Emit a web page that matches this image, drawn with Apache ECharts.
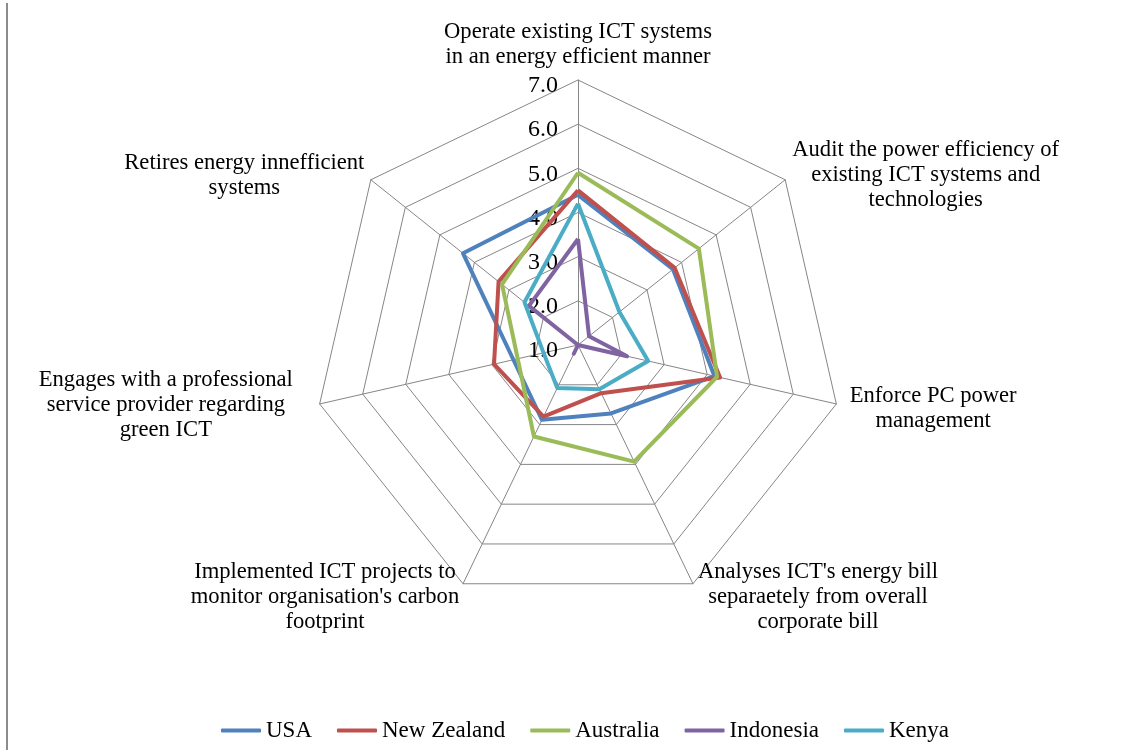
<!DOCTYPE html>
<html>
<head>
<meta charset="utf-8">
<script src="https://cdn.jsdelivr.net/npm/echarts@6/dist/echarts.min.js"></script>
<style>
  html, body { margin: 0; padding: 0; background: #fff; }
  #chart { width: 1142px; height: 750px; }
</style>
</head>
<body>
<div id="chart"></div>
<script>
// ---- data (categories listed clockwise from the top) ----
const categories = [
  'Operate existing ICT systems\nin an energy efficient manner',
  'Audit the power efficiency of\nexisting ICT systems and\ntechnologies',
  'Enforce PC power\nmanagement',
  "Analyses ICT's energy bill\nseparaetely from overall\ncorporate bill",
  "Implemented ICT projects to\nmonitor organisation's carbon\nfootprint",
  'Engages with a professional\nservice provider regarding\ngreen ICT',
  'Retires energy innefficient\nsystems'
];
const seriesNames = ['USA', 'New Zealand', 'Australia', 'Indonesia', 'Kenya'];
const usa        = [4.40, 3.75, 4.17, 2.72, 2.88, 2.50, 4.33];
const newZealand = [4.50, 3.80, 4.30, 2.21, 2.80, 2.95, 3.30];
const australia  = [4.90, 4.50, 4.23, 3.93, 3.30, 2.40, 3.20];
const indonesia  = [3.40, 1.32, 2.14, 1.00, 1.22, 1.00, 2.42];
const kenya      = [4.20, 2.20, 2.63, 2.11, 2.08, 1.80, 2.55];
const tickValues = [1, 2, 3, 4, 5, 6, 7];

// ---- styling ----
const colors = ['#4F81BD', '#C0504D', '#9BBB59', '#8064A2', '#4BACC6'];
const FONT = '"Liberation Serif", "Times New Roman", serif';
const labelWidths = [270, 270, 180, 244, 270, 294, 242];
const labelSpacer = [0, 0, 6, 14, 14, 0, 0];
const labelSpacerBottom = [3, 0, 0, 0, 0, 0, 0];

const rich = {};
labelWidths.forEach((w, i) => {
  rich['c' + i] = { width: w, align: 'center', fontFamily: FONT, fontSize: 22.6, lineHeight: 25, color: '#000' };
  rich['p' + i] = { width: w, fontSize: 1, lineHeight: Math.max(labelSpacer[i], 1), height: Math.max(labelSpacer[i], 1) };
  rich['q' + i] = { width: w, fontSize: 1, lineHeight: Math.max(labelSpacerBottom[i], 1), height: Math.max(labelSpacerBottom[i], 1) };
});

// ECharts lays indicators out counter-clockwise; reorder so they read clockwise
const order = [0, 6, 5, 4, 3, 2, 1];
const allValues = [usa, newZealand, australia, indonesia, kenya];
const indicator = order.map((k, i) => {
  const o = { name: categories[k], min: tickValues[0], max: tickValues[tickValues.length - 1] };
  if (i === 0) o.axisLabel = { show: true };
  return o;
});

const chart = echarts.init(document.getElementById('chart'), null, { renderer: 'canvas' });
chart.setOption({
  animation: false,
  backgroundColor: '#fff',
  color: colors,
  legend: {
    data: seriesNames,
    left: 216,
    top: 714,
    itemWidth: 40,
    itemHeight: 4,
    itemGap: 25,
    icon: 'roundRect',
    textStyle: { fontFamily: FONT, fontSize: 23, color: '#000' }
  },
  radar: {
    center: [578, 345],
    radius: 265,
    shape: 'polygon',
    startAngle: 90,
    splitNumber: tickValues.length - 1,
    indicator: indicator,
    nameGap: 7,
    axisName: {
      color: '#000',
      fontFamily: FONT,
      fontSize: 22.6,
      lineHeight: 25,
      formatter: function (name) {
        const idx = categories.indexOf(name);
        const body = name.split('\n').map(l => '{c' + idx + '|' + l + '}').join('\n');
        return (labelSpacer[idx] > 0 ? '{p' + idx + '| }\n' : '') + body +
               (labelSpacerBottom[idx] > 0 ? '\n{q' + idx + '| }' : '');
      },
      rich: rich
    },
    axisLine: { lineStyle: { color: '#868686', width: 1 } },
    splitLine: { lineStyle: { color: '#868686', width: 1 } },
    splitArea: { show: false },
    axisTick: { show: false },
    axisLabel: {
      show: false,
      color: '#000',
      fontFamily: FONT,
      fontSize: 24,
      margin: 20,
      formatter: v => '{n|' + Number(v).toFixed(1) + '}',
      rich: {
        n: { fontFamily: FONT, fontSize: 24, color: '#000', padding: [12, 0, 0, 0] }
      }
    }
  },
  series: [{
    type: 'radar',
    symbol: 'none',
    data: seriesNames.map((n, i) => ({
      name: n,
      value: order.map(k => allValues[i][k]),
      lineStyle: { color: colors[i], width: 4 },
      itemStyle: { color: colors[i] }
    }))
  }],
  graphic: [{
    type: 'rect',
    shape: { x: 6, y: 3, width: 2, height: 747 },
    style: { fill: '#8c8c8c' }
  }]
});
</script>
</body>
</html>
